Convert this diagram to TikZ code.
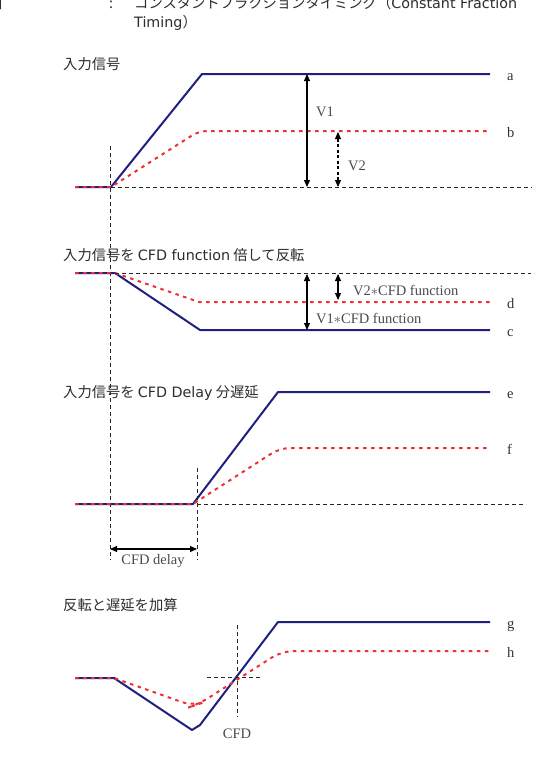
\documentclass[tikz,border=0pt]{standalone}
\usepackage{fontspec}
\setmainfont{Liberation Serif}
\newfontfamily\jp{Noto Sans CJK JP}
\newfontfamily\lat{DejaVu Sans}
\usetikzlibrary{arrows.meta}
\definecolor{sigblue}{RGB}{32,32,128}
\definecolor{sigred}{RGB}{238,48,48}
\definecolor{lblgray}{RGB}{75,75,75}
\definecolor{ttlgray}{RGB}{45,45,45}
\tikzset{
  sigA/.style={draw=sigblue, line width=2pt, line join=round},
  sigB/.style={draw=sigred, line width=2pt, dash pattern=on 3.5pt off 4.5pt},
  guide/.style={draw=black!85, line width=0.9pt, dash pattern=on 4pt off 3pt},
  meas/.style={draw=black, line width=1.1pt, {Triangle[length=7pt,width=6pt]}-{Triangle[length=7pt,width=6pt]}},
  measd/.style={meas, dash pattern=on 3pt off 2.5pt},
  lbl/.style={font=\fontsize{14.5}{16}\selectfont, text=lblgray, inner sep=0pt},
  curvelbl/.style={lbl, text=black!80, anchor=base west},
  ttl/.style={font=\jp\fontsize{14.3}{18}\selectfont, text=ttlgray, inner sep=0pt, anchor=base west}
}
\begin{document}
\begin{tikzpicture}[x=1pt,y=-1pt]
\useasboundingbox (0,0) rectangle (546,766);
\fill[white] (0,0) rectangle (546,766);

% header (partly cut off at the top, as in the reference)
\node[ttl] (hq) at (-4,8) {」};
\node[ttl] (hc) at (109,8) {:};
\node[ttl] (h1) at (134,8) {コンスタントフラクションタイミング（{\lat Constant Fraction}};
\node[ttl] (h2) at (134,27) {{\lat Timing}）};

% ---------- section 1 ----------
\node[ttl] (t1) at (63,69.5) {入力信号};
\draw[sigA] (75,187) -- (111,187) -- (202,74) -- (490,74);
\draw[sigB] (75,187) -- (111,187) [rounded corners=8pt] -- (199,131) -- (490,131);
\draw[guide] (111,187) -- (532,187);
\draw[guide] (110,146) -- (110,560);
\coordinate (a1t) at (307,74);  \coordinate (a1b) at (307,187);
\coordinate (a2t) at (338,132); \coordinate (a2b) at (338,187);
\draw[meas] (a1t) -- (a1b);
\draw[measd] (a2t) -- (a2b);
\node[lbl, anchor=base west] (v1) at (316,116) {V1};
\node[lbl, anchor=base west] (v2) at (348,170) {V2};
\node[curvelbl] (la) at (507,80) {a};
\node[curvelbl] (lb) at (507,137) {b};

% ---------- section 2 ----------
\node[ttl] (t2) at (63,260.5) {入力信号を {\lat CFD function} 倍して反転};
\draw[sigA] (75,273) -- (115,273) -- (200,330) -- (490,330);
\draw[sigB] (75,273) -- (115,273) -- (199,302) -- (490,302);
\draw[guide] (115,273) -- (531,273);
\coordinate (b1t) at (307,274); \coordinate (b1b) at (307,330);
\coordinate (b2t) at (338,274); \coordinate (b2b) at (338,300);
\draw[meas] (b1t) -- (b1b);
\draw[meas] (b2t) -- (b2b);
\node[lbl, anchor=base west] (v2f) at (353,295) {V2$\ast$CFD function};
\node[lbl, anchor=base west] (v1f) at (316,323) {V1$\ast$CFD function};
\node[curvelbl] (ld) at (507,308) {d};
\node[curvelbl] (lc) at (507,336) {c};

% ---------- section 3 ----------
\node[ttl] (t3) at (63,397.5) {入力信号を {\lat CFD Delay} 分遅延};
\draw[sigA] (75,504) -- (193,504) -- (278,392) -- (490,392);
\draw[sigB] (75,504) -- (193,504) [rounded corners=10pt] -- (280,448) -- (490,448);
\draw[guide] (197,504) -- (524,504);
\draw[guide] (197,468) -- (197,560);
\coordinate (dl) at (110,549); \coordinate (dr) at (197,549);
\draw[meas] (dl) -- (dr);
\node[lbl, anchor=base] (cfdd) at (153,564) {CFD delay};
\node[curvelbl] (le) at (507,398) {e};
\node[curvelbl] (lf) at (507,454) {f};

% ---------- section 4 ----------
\node[ttl] (t4) at (63,610.5) {反転と遅延を加算};
\draw[sigA] (75,678) -- (114,678) -- (192,730) -- (200,725) -- (278,622) -- (490,622);
\draw[sigB] (75,678) -- (114,678) [rounded corners=12pt] -- (193,706) -- (199,704) -- (282,651) -- (490,651);
\draw[guide] (237,625) -- (237,717);
\draw[guide] (207,677) -- (260,677);
\node[lbl, anchor=base] (cfd) at (237,738) {CFD};
\node[curvelbl] (lg) at (507,628) {g};
\node[curvelbl] (lh) at (507,657) {h};
\end{tikzpicture}
\end{document}
